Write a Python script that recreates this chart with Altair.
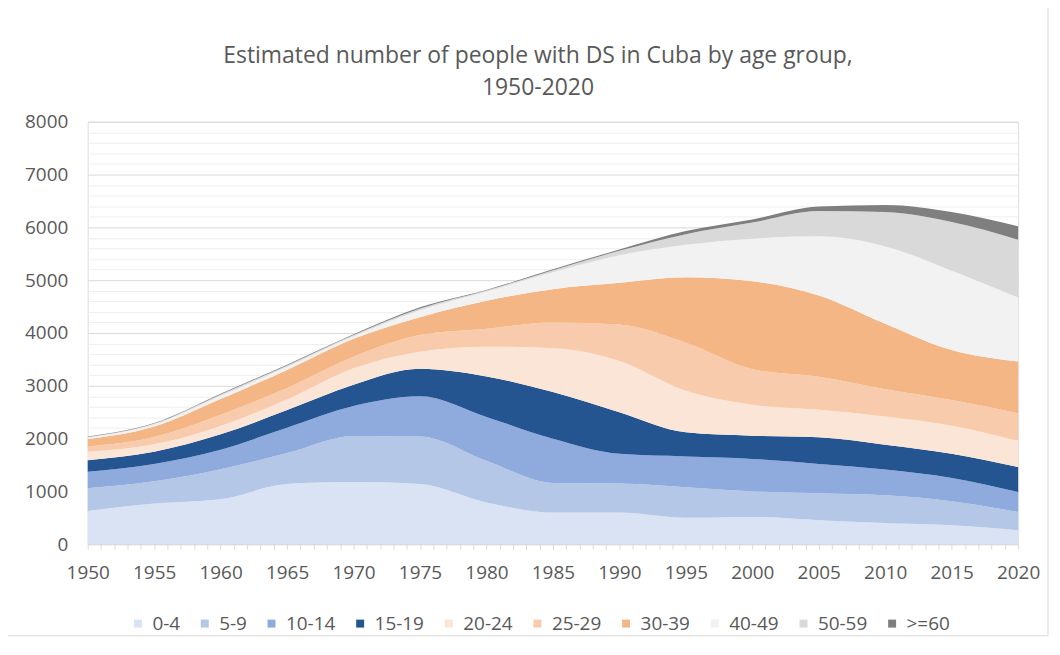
import altair as alt
import pandas as pd

years = [1950, 1955, 1960, 1965, 1970, 1975, 1980, 1985, 1990, 1995, 2000, 2005, 2010, 2015, 2020]

groups = ["0-4", "5-9", "10-14", "15-19", "20-24", "25-29", "30-39", "40-49", "50-59", ">=60"]

age_0_4   = [630, 770, 850, 1140, 1175, 1140, 790, 600, 600, 500, 515, 455, 400, 360, 265]
age_5_9   = [430, 420, 570, 585, 875, 900, 790, 560, 550, 580, 485, 510, 525, 455, 345]
age_10_14 = [310, 330, 370, 480, 565, 760, 830, 835, 560, 580, 615, 555, 490, 440, 375]
age_15_19 = [220, 230, 290, 335, 405, 520, 765, 885, 790, 460, 440, 505, 470, 455, 475]
age_20_24 = [160, 140, 160, 200, 310, 325, 565, 830, 970, 785, 585, 520, 535, 535, 500]
age_25_29 = [100, 140, 210, 220, 220, 315, 340, 490, 690, 910, 675, 625, 515, 485, 520]
age_30_39 = [140, 200, 300, 340, 340, 340, 530, 630, 790, 1240, 1665, 1540, 1240, 945, 980]
age_40_49 = [30, 40, 60, 60, 50, 130, 175, 320, 520, 615, 805, 1120, 1465, 1505, 1210]
age_50_59 = [10, 15, 25, 25, 20, 35, 20, 40, 85, 200, 305, 480, 650, 920, 1095]
age_60p   = [10, 10, 15, 15, 15, 20, 10, 15, 25, 60, 60, 85, 135, 190, 255]

series = [age_0_4, age_5_9, age_10_14, age_15_19, age_20_24,
          age_25_29, age_30_39, age_40_49, age_50_59, age_60p]

colors = ["#dae3f3", "#b4c7e7", "#8faadc", "#245591", "#fbe5d6",
          "#f8cbad", "#f5b686", "#f2f2f2", "#d9d9d9", "#7f7f7f"]

x_tick_values = list(range(1950, 2021))
y_tick_values = list(range(0, 8001, 200))

rows = []
for gi, (g, vals) in enumerate(zip(groups, series)):
    for yr, v in zip(years, vals):
        rows.append({"year": yr, "group": g, "idx": gi, "value": v})
df = pd.DataFrame(rows)

FONT = "Open Sans"
TXT = "#595959"

area = alt.Chart(df).mark_area(interpolate="monotone").encode(
    x=alt.X("year:Q",
            scale=alt.Scale(domain=[1950, 2020], nice=False, zero=False),
            axis=alt.Axis(values=x_tick_values,
                          labelExpr="datum.value % 5 === 0 ? format(datum.value, 'd') : ''",
                          labelOverlap=False, labelFlush=False, grid=False, tickSize=5,
                          tickColor="#d9d9d9", domainColor="#d9d9d9",
                          labelFontSize=19, labelColor=TXT, labelFont=FONT,
                          labelPadding=14, title=None)),
    y=alt.Y("value:Q", stack="zero",
            scale=alt.Scale(domain=[0, 8000], nice=False),
            axis=alt.Axis(values=y_tick_values,
                          labelExpr="datum.value % 1000 === 0 ? format(datum.value, 'd') : ''",
                          gridColor={"condition": {"test": "datum.value % 1000 === 0", "value": "#d9d9d9"},
                                     "value": "#eeeeee"},
                          domain=False, ticks=False, tickSize=0, labelPadding=20,
                          labelOverlap=False, labelFlush=False, labelFontSize=19,
                          labelColor=TXT, labelFont=FONT, title=None)),
    color=alt.Color("group:N",
                    scale=alt.Scale(domain=groups, range=colors),
                    legend=alt.Legend(orient="none", legendX=41, legendY=494,
                                      direction="horizontal", columns=10,
                                      symbolType="square", symbolSize=64,
                                      symbolStrokeWidth=0, labelFontSize=19,
                                      labelColor=TXT, labelFont=FONT,
                                      columnPadding=15, labelOffset=5, title=None)),
    order=alt.Order("idx:Q", sort="ascending"),
)

frame = alt.Chart(pd.DataFrame({"a": [0]})).mark_rect(
    fillOpacity=0, stroke="#d9d9d9", strokeWidth=1
).encode(x=alt.value(-84), x2=alt.value(964), y=alt.value(-117), y2=alt.value(516))

chart = alt.layer(frame, area).properties(
    width=934, height=424,
    title=alt.Title(text=["Estimated number of people with DS in Cuba by age group,", "1950-2020"],
                    fontSize=23, font=FONT, color=TXT, fontWeight="normal",
                    anchor="middle", frame="group", offset=-96, dx=-15, lineHeight=33),
    padding={"left": 80, "top": 113, "right": 34, "bottom": 95},
    autosize=alt.AutoSizeParams(type="none"),
).configure_view(strokeWidth=0).configure(font=FONT)

chart.save("out.html", embed_options={"renderer": "svg", "actions": False})
